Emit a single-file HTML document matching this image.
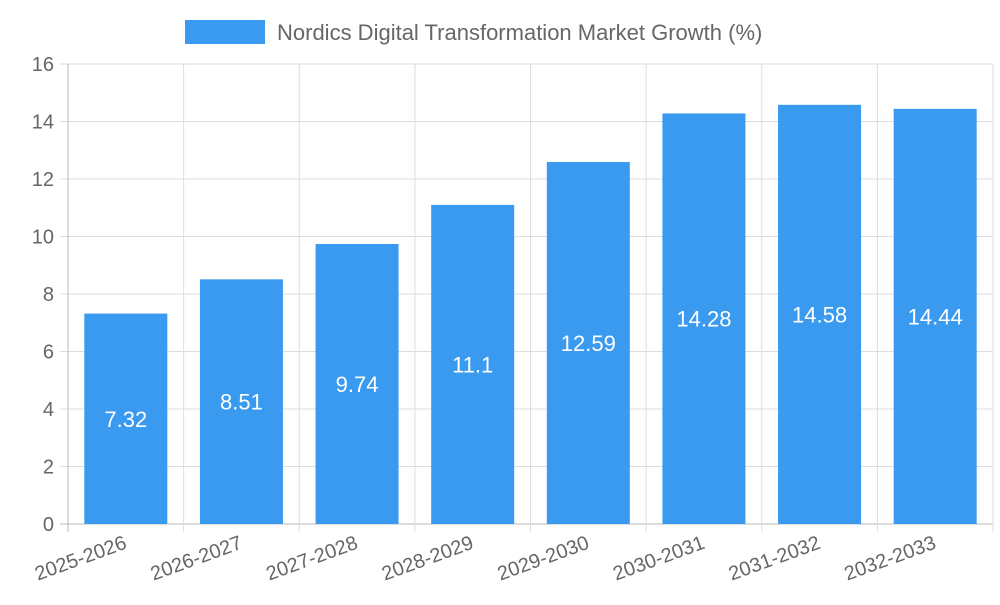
<!DOCTYPE html>
<html><head><meta charset="utf-8"><style>
body{margin:0;background:#fff;font-family:"Liberation Sans",sans-serif}
</style></head><body>
<svg id="chart" width="1000" height="600" xmlns="http://www.w3.org/2000/svg">
<g>
<rect x="185" y="20" width="80" height="24" fill="#3a9af0"/>
<text x="277" y="40" font-size="22" fill="#666" font-family="Liberation Sans, sans-serif">Nordics Digital Transformation Market Growth (%)</text>
</g>
<g id="grid"></g><g id="bars"></g><g id="labels"></g>
</svg>
<script>
const categories=["2025-2026","2026-2027","2027-2028","2028-2029","2029-2030","2030-2031","2031-2032","2032-2033"];
const values=[7.32,8.51,9.74,11.1,12.59,14.28,14.58,14.44];
const yTicks=[0,2,4,6,8,10,12,14,16];
const NS="http://www.w3.org/2000/svg";
const x0=68,x1=993,y0=524,y1=64,yMax=16;
const bw=(x1-x0)/categories.length;
const y=v=>y0-(y0-y1)*v/yMax;
const xc=i=>x0+bw*(i+0.5);
function mk(tag,attrs,parent,txt){const e=document.createElementNS(NS,tag);for(const k in attrs)e.setAttribute(k,attrs[k]);if(txt!==undefined)e.textContent=txt;document.getElementById(parent).appendChild(e);return e;}
yTicks.forEach(t=>{
 const l=mk('line',{x1:x0-8,x2:x1,y1:y(t),y2:y(t),stroke:t===0?'#bbb':'#ddd','stroke-width':1},'grid');
 
 
 const tx=mk('text',{x:x0-14,y:y(t)+7,'text-anchor':'end','font-size':20,fill:'#666'},'labels',String(t));
 
 
});
for(let i=0;i<=categories.length;i++){
 const gx=x0+bw*i;
 const l=mk('line',{x1:gx,x2:gx,y1:y1,y2:y0+8,stroke:i===0?'#bbb':'#ddd','stroke-width':1},'grid');
 
 
}
categories.forEach((c,i)=>{
 const w=83;
 const r=mk('rect',{x:xc(i)-w/2,y:y(values[i]),width:w,height:y0-y(values[i]),fill:'#3a9af0'},'bars');
 
 
 const v=mk('text',{x:xc(i),y:(y(values[i])+y0)/2+8,'text-anchor':'middle','font-size':22,fill:'#fff'},'labels',String(values[i]));
 
 
 const t=mk('text',{x:xc(i)+2,y:y0+24,'text-anchor':'end','font-size':20,fill:'#666',transform:`rotate(-20 ${xc(i)+2} ${y0+24})`},'labels',c);
 
 
});
</script>
</body></html>
